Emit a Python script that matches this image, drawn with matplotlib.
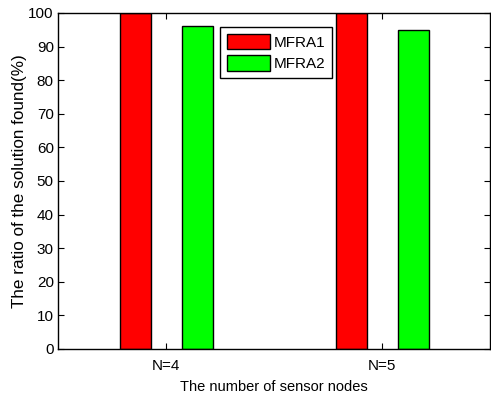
import matplotlib
matplotlib.use('Agg')
import matplotlib.pyplot as plt
import numpy as np

plt.rcParams['font.family'] = ['Liberation Sans', 'DejaVu Sans']

groups = ['N=4', 'N=5']
mfra1 = [100, 100]
mfra2 = [96.2, 94.9]
series_names = ['MFRA1', 'MFRA2']

x = np.arange(1, len(groups) + 1)
w = 0.145

fig = plt.figure(figsize=(4.91, 4.0), dpi=100)
ax = fig.add_axes([58/491, 51/400, 432/491, 336/400])
ax.bar(x - 0.141, mfra1, w, color='#ff0000', edgecolor='black', linewidth=1.0, label=series_names[0])
ax.bar(x + 0.146, mfra2, w, color='#00ff00', edgecolor='black', linewidth=1.0, label=series_names[1])

ax.set_xlim(0.5, 2.5)
ax.set_ylim(0, 100)
ax.set_xticks(x)
ax.set_xticklabels(groups)
ax.set_yticks(np.arange(0, 101, 10))
ax.tick_params(direction='in', top=True, right=True, labelsize=11, length=4, color='black')
ax.tick_params(axis='x', pad=7)
ax.tick_params(axis='y', pad=3)
for s in ax.spines.values():
    s.set_linewidth(1.0)

ax.set_xlabel('The number of sensor nodes', fontsize=10.5, labelpad=5)
ax.set_ylabel('The ratio of the solution found(%)', fontsize=12.3, labelpad=1)

leg = ax.legend(loc='upper left', bbox_to_anchor=(0.375, 0.957), fontsize=11,
                fancybox=False, edgecolor='black', framealpha=1,
                handlelength=2.8, handleheight=1.15, handletextpad=0.25,
                borderpad=0.45, labelspacing=0.35, borderaxespad=0)
leg.get_frame().set_linewidth(1.0)

fig.savefig('out.png', dpi=100)
